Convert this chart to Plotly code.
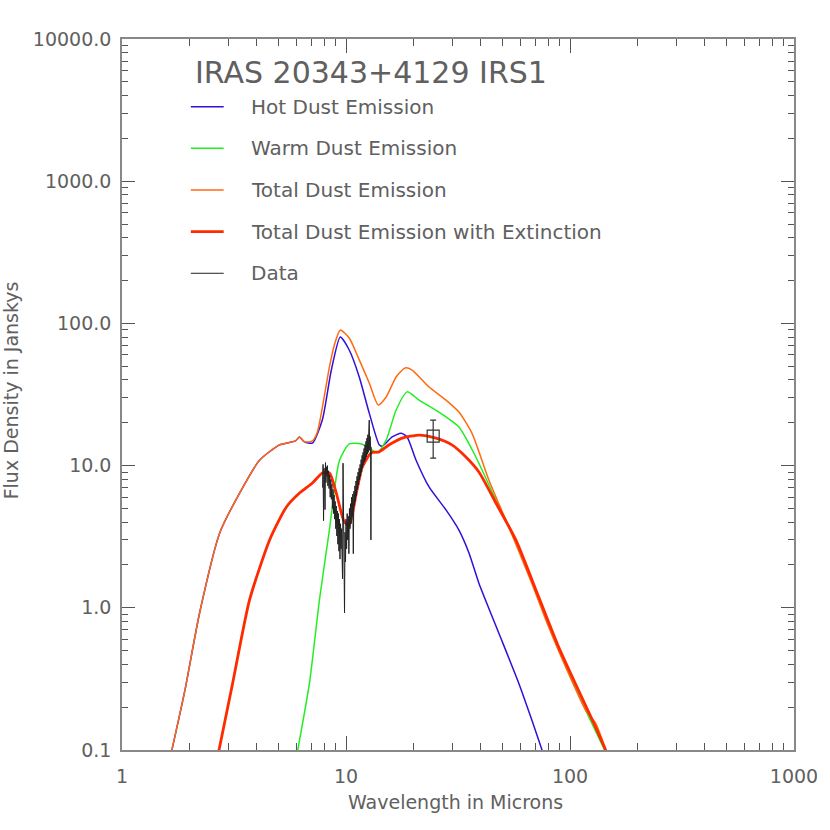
import plotly.graph_objects as go

# ---------------- data ----------------
hot_wl = [1.67, 1.91, 2.22, 2.73, 3.35, 4.11, 5.05, 5.95, 6.20, 6.52, 7.08, 7.84, 8.60, 9.43,
          10.34, 11.46, 12.70, 14.07, 14.51, 16.07, 17.63, 18.74, 20.55, 23.48, 27.95, 31.93,
          35.4, 39.2, 48.1, 59.0, 67.5, 75.5]
hot_flux = [0.1, 0.264, 0.919, 3.36, 6.41, 10.9, 14.0, 14.9, 15.9, 14.7, 14.4, 20.9, 47.0, 80.2,
            65.0, 42.0, 23.4, 14.0, 13.7, 15.9, 16.9, 15.9, 10.9, 7.08, 4.88, 3.52,
            2.43, 1.49, 0.665, 0.296, 0.163, 0.097]

warm_wl = [6.07, 6.87, 7.61, 8.43, 9.34, 10.34, 11.70, 12.70, 13.78, 15.11, 16.74, 18.74, 21.20,
           26.0, 31.93, 38.0, 46.7, 57.3, 72.5, 89.0, 117.3, 144.0]
warm_flux = [0.097, 0.296, 1.135, 3.52, 10.8, 14.2, 14.2, 13.3, 12.3, 15.1, 24.6, 33.0, 28.9,
             23.8, 18.7, 11.5, 5.73, 3.00, 1.135, 0.505, 0.191, 0.097]

total_wl = [1.67, 1.91, 2.22, 2.73, 3.35, 4.11, 5.05, 5.95, 6.20, 6.52, 7.08, 7.45, 8.43, 8.87,
            9.43, 10.34, 11.46, 12.70, 13.92, 15.11, 16.74, 18.36, 19.72, 23.48, 27.95, 31.93,
            36.49, 43.43, 53.3, 67.5, 80.3, 95.6, 117.3, 130.0, 145.5]
total_flux = [0.1, 0.264, 0.919, 3.36, 6.41, 10.9, 14.0, 14.9, 15.9, 14.7, 14.9, 17.2, 49.3, 70.5,
              90.0, 78.9, 55.4, 38.1, 26.7, 30.4, 42.0, 48.6, 47.0, 35.7, 28.9, 23.8,
              16.9, 7.93, 3.70, 1.49, 0.732, 0.384, 0.191, 0.155, 0.097]

ext_wl = [2.70, 3.12, 3.71, 4.56, 5.42, 6.20, 7.08, 7.84, 8.43, 9.05, 9.83, 10.34, 11.12, 11.82,
          12.96, 14.07, 15.58, 17.81, 21.20, 25.2, 29.7, 34.3, 39.2, 46.7, 57.3, 72.5, 89.0,
          130.0, 145.5]
ext_flux = [0.097, 0.296, 1.135, 3.00, 5.12, 6.41, 7.55, 8.87, 8.87, 6.41, 4.01, 3.82, 6.41, 9.77,
            12.3, 12.5, 14.0, 15.6, 16.4, 15.6, 14.0, 11.5, 9.02, 5.46, 3.00, 1.19, 0.53,
            0.145, 0.097]

spec_wl = [7.86, 7.90, 7.94, 7.98, 8.02, 8.06, 8.10, 8.14, 8.18, 8.22, 8.26, 8.30, 8.35, 8.40,
           8.45, 8.50, 8.55, 8.60, 8.65, 8.70, 8.75, 8.80, 8.85, 8.90, 8.95, 9.00, 9.05, 9.10,
           9.15, 9.20, 9.25, 9.30, 9.35, 9.40, 9.45, 9.50, 9.55, 9.60, 9.65, 9.70, 9.75, 9.80,
           9.85, 9.90, 9.95, 10.00, 10.06, 10.12, 10.18, 10.24, 10.30, 10.36, 10.42, 10.48,
           10.54, 10.60, 10.66, 10.72, 10.78, 10.84, 10.90, 10.96, 11.02, 11.08, 11.14, 11.20,
           11.26, 11.32, 11.38, 11.44, 11.50, 11.56, 11.62, 11.68, 11.74, 11.80, 11.86, 11.92,
           11.98, 12.04, 12.10, 12.16, 12.22, 12.28, 12.34, 12.40, 12.46, 12.52, 12.58, 12.64,
           12.70, 12.76, 12.82, 12.88, 12.92, 12.96]
spec_flux = [7.0, 10.2, 4.1, 9.6, 8.0, 4.9, 10.5, 7.6, 9.8, 8.4, 10.0, 7.2, 9.2, 6.9,
             8.6, 6.0, 8.0, 5.8, 7.4, 5.0, 6.8, 4.6, 6.2, 4.2, 5.6, 3.6, 5.2, 3.2,
             4.8, 2.8, 4.6, 2.5, 4.2, 2.2, 3.9, 2.6, 3.6, 1.9, 1.6, 10.4, 2.8, 3.8,
             0.92, 3.4, 2.1, 4.2, 2.6, 4.6, 3.0, 4.4, 2.4, 5.0, 3.6, 5.4,
             3.9, 6.0, 4.4, 6.3, 2.4, 6.6, 5.2, 7.2, 5.6, 7.8, 6.1, 8.4,
             6.8, 9.0, 7.3, 9.6, 7.9, 10.2, 8.4, 11.0, 9.0, 11.8, 9.6, 12.4,
             10.1, 13.2, 10.6, 14.0, 11.0, 14.8, 11.5, 15.6, 12.0, 16.5, 12.4, 17.5,
             20.9, 12.8, 16.0, 13.2, 3.0, 13.5]

phot_wl = [24.5]
phot_flux = [16.1]
phot_err = [4.8]

x_tickvals = [1, 10, 100, 1000]
x_ticktext = ["1", "10", "100", "1000"]
y_tickvals = [0.1, 1, 10, 100, 1000, 10000]
y_ticktext = ["0.1", "1.0", "10.0", "100.0", "1000.0", "10000.0"]

legend_names = ["Hot Dust Emission", "Warm Dust Emission", "Total Dust Emission",
                "Total Dust Emission with Extinction", "Data"]

# ---------------- styles ----------------
C_HOT = "#3010d8"
C_WARM = "#22ee22"
C_TOT = "#ff6a10"
C_EXT = "#ff2a00"
C_DATA = "#222222"
TXT = "#606060"
FONT = "DejaVu Sans"

fig = go.Figure()
fig.add_trace(go.Scatter(x=hot_wl, y=hot_flux, mode="lines", line=dict(color=C_HOT, width=1.5, shape="spline", smoothing=0.6)))
fig.add_trace(go.Scatter(x=warm_wl, y=warm_flux, mode="lines", line=dict(color=C_WARM, width=1.5, shape="spline", smoothing=0.6)))
fig.add_trace(go.Scatter(x=total_wl, y=total_flux, mode="lines", line=dict(color=C_TOT, width=1.5, shape="spline", smoothing=0.6)))
fig.add_trace(go.Scatter(x=ext_wl, y=ext_flux, mode="lines", line=dict(color=C_EXT, width=2.8, shape="spline", smoothing=0.6)))
fig.add_trace(go.Scatter(x=spec_wl, y=spec_flux, mode="lines", line=dict(color=C_DATA, width=1)))
fig.add_trace(go.Scatter(x=phot_wl, y=phot_flux, mode="markers",
                         marker=dict(symbol="square-open", size=12, color="#333333", line=dict(width=1.2)),
                         error_y=dict(type="data", array=phot_err, color="#333333", thickness=1.2, width=3)))

minor_x = [m * d for d in (1, 10, 100) for m in range(2, 10)]
minor_y = [m * d for d in (0.1, 1, 10, 100, 1000) for m in range(2, 10)]

axis_common = dict(type="log", showgrid=False, zeroline=False, showline=True, linecolor="#888888",
                   linewidth=1.5, mirror="ticks", ticks="inside", tickcolor="#555555", tickwidth=1,
                   tickfont=dict(family=FONT, size=19, color=TXT))

fig.update_xaxes(range=[0, 3], tickmode="array", tickvals=x_tickvals, ticktext=x_ticktext, ticklen=14,
                 ticklabelstandoff=8,
                 minor=dict(ticks="inside", ticklen=7, tickvals=minor_x, tickcolor="#555555", showgrid=False),
                 **axis_common)
fig.update_yaxes(range=[-1, 4], tickmode="array", tickvals=y_tickvals, ticktext=y_ticktext, ticklen=13,
                 ticklabelstandoff=5,
                 minor=dict(ticks="inside", ticklen=6, tickvals=minor_y, tickcolor="#555555", showgrid=False),
                 **axis_common)

annotations = [
    dict(text="IRAS 20343+4129 IRS1", x=0.1053, y=0.9529, xref="paper", yref="paper",
         xanchor="left", yanchor="middle", showarrow=False, font=dict(family=FONT, size=30, color=TXT)),
    dict(text="Wavelength in Microns", x=0.497, y=-0.0731, xref="paper", yref="paper",
         xanchor="center", yanchor="middle", showarrow=False, font=dict(family=FONT, size=19, color=TXT)),
    dict(text="Flux Density in Janskys", x=-0.1647, y=0.5063, xref="paper", yref="paper",
         xanchor="center", yanchor="middle", textangle=-90, showarrow=False,
         font=dict(family=FONT, size=19, color=TXT)),
]
shapes = []
leg_y = [0.9048, 0.8463, 0.7876, 0.729, 0.6705]
leg_col = [C_HOT, C_WARM, C_TOT, C_EXT, C_DATA]
leg_w = [1.5, 1.5, 1.5, 2.8, 1]
for name, yy, col, w in zip(legend_names, leg_y, leg_col, leg_w):
    shapes.append(dict(type="line", xref="paper", yref="paper", x0=0.1024, x1=0.1513, y0=yy, y1=yy,
                       line=dict(color=col, width=w)))
    annotations.append(dict(text=name, x=0.1884, y=yy, xref="paper", yref="paper", xanchor="left",
                            yanchor="middle", showarrow=False, font=dict(family=FONT, size=20, color=TXT)))

fig.update_layout(width=830, height=830, margin=dict(l=122, r=34, t=39, b=80),
                  plot_bgcolor="white", paper_bgcolor="white", showlegend=False,
                  annotations=annotations, shapes=shapes)

fig.write_html("out.html", config={"displayModeBar": False},
               post_script="document.body.style.margin='0px';document.body.style.overflow='hidden';")
